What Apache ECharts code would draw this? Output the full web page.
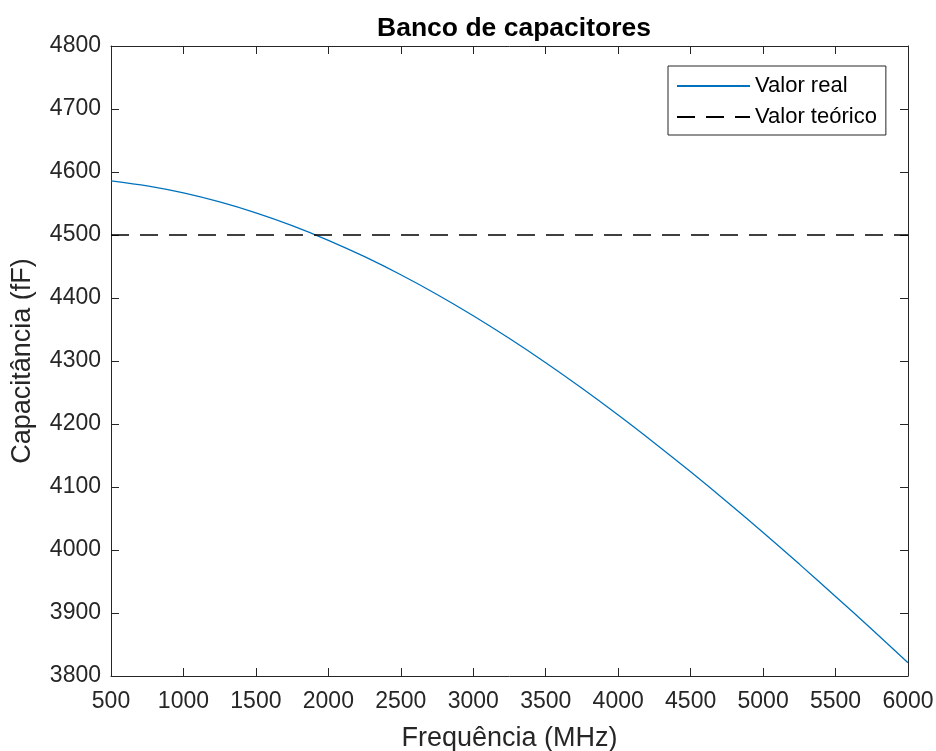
<!DOCTYPE html>
<html>
<head>
<meta charset="utf-8">
<script src="https://cdn.jsdelivr.net/npm/echarts@6/dist/echarts.min.js"></script>
<style>
html,body{margin:0;padding:0;background:#fff;}
#chart{width:936px;height:751px;}
</style>
</head>
<body>
<div id="chart"></div>
<script>
// Data
var frequencies = [500, 750, 1000, 1250, 1500, 1750, 2000, 2250, 2500, 2750, 3000, 3250,
                   3500, 3750, 4000, 4250, 4500, 4750, 5000, 5250, 5500, 5750, 6000];
var realValues = [4586.0, 4578.0, 4566.8, 4552.5, 4535.2, 4514.9, 4491.6, 4465.6, 4436.9, 4405.6,
                  4371.8, 4335.6, 4297.2, 4256.7, 4214.3, 4170.0, 4124.1, 4076.6, 4027.7, 3977.6,
                  3926.3, 3874.1, 3821.0];
var theoreticalX = [500, 6000];
var theoreticalValues = [4500, 4500];
var xTickLabels = [500, 1000, 1500, 2000, 2500, 3000, 3500, 4000, 4500, 5000, 5500, 6000];
var yTickLabels = [3800, 3900, 4000, 4100, 4200, 4300, 4400, 4500, 4600, 4700, 4800];
var seriesNames = ['Valor real', 'Valor teórico'];
var titleText = 'Banco de capacitores';
var xName = 'Frequência (MHz)';
var yName = 'Capacitância (fF)';

var FONT = 'Liberation Sans, Arial, Helvetica, sans-serif';
var AX = '#262626';
var xMin = xTickLabels[0], xMax = xTickLabels[xTickLabels.length - 1], xInt = xTickLabels[1] - xTickLabels[0];
var yMin = yTickLabels[0], yMax = yTickLabels[yTickLabels.length - 1], yInt = yTickLabels[1] - yTickLabels[0];

function xAxisCfg(pos, show) {
  return {
    type: 'value', position: pos, min: xMin, max: xMax, interval: xInt,
    name: show ? xName : '', nameLocation: 'middle', nameGap: 49,
    nameTextStyle: { fontFamily: FONT, fontSize: 27, color: AX },
    axisLine: { show: true, onZero: false, lineStyle: { color: AX, width: 1 } },
    axisTick: { show: true, inside: true, length: 8, lineStyle: { color: AX, width: 1 } },
    axisLabel: { show: show, margin: 14, fontFamily: FONT, fontSize: 23, color: AX,
                 formatter: function (v) { return String(v); } },
    splitLine: { show: false }
  };
}
function yAxisCfg(pos, show) {
  return {
    type: 'value', position: pos, min: yMin, max: yMax, interval: yInt,
    name: show ? yName : '', nameLocation: 'middle', nameGap: 75, nameRotate: 90,
    nameTextStyle: { fontFamily: FONT, fontSize: 27, color: AX },
    axisLine: { show: true, onZero: false, lineStyle: { color: AX, width: 1 } },
    axisTick: { show: true, inside: true, length: 8, lineStyle: { color: AX, width: 1 } },
    axisLabel: { show: show, margin: 10, fontFamily: FONT, fontSize: 23, color: AX,
                 formatter: function (v) { return String(v); } },
    splitLine: { show: false }
  };
}

var chart = echarts.init(document.getElementById('chart'), null, { renderer: 'canvas' });
chart.setOption({
  animation: false,
  backgroundColor: '#ffffff',
  title: {
    text: titleText, left: 509, top: 10, textAlign: 'center',
    textStyle: { fontFamily: FONT, fontSize: 26.5, fontWeight: 'bold', color: '#000' }
  },
  grid: { left: 111, right: 28, top: 46, bottom: 75, containLabel: false, outerBoundsMode: 'none' },
  legend: {
    left: 668, top: 66, orient: 'vertical',
    data: seriesNames,
    backgroundColor: '#fff', borderColor: AX, borderWidth: 1, borderRadius: 0,
    padding: [9, 9, 7, 8], itemGap: 9, itemWidth: 73, itemHeight: 14,
    itemStyle: { color: 'transparent', borderWidth: 0, opacity: 0 },
    textStyle: { fontFamily: FONT, fontSize: 22, color: '#000' },
    selectedMode: false
  },
  xAxis: [xAxisCfg('bottom', true), xAxisCfg('top', false)],
  yAxis: [yAxisCfg('left', true), yAxisCfg('right', false)],
  series: [
    {
      name: seriesNames[0], type: 'line', xAxisIndex: 0, yAxisIndex: 0,
      data: frequencies.map(function (f, i) { return [f, realValues[i]]; }),
      smooth: 0.3, symbol: 'none',
      lineStyle: { color: '#0072BD', width: 1.3 }, itemStyle: { color: '#0072BD' }
    },
    {
      name: seriesNames[1], type: 'line', xAxisIndex: 0, yAxisIndex: 0,
      data: theoreticalX.map(function (f, i) { return [f, theoreticalValues[i]]; }),
      symbol: 'none',
      lineStyle: { color: '#000', width: 1.3, type: [18, 11] }, itemStyle: { color: '#000' }
    }
  ]
});
</script>
</body>
</html>
